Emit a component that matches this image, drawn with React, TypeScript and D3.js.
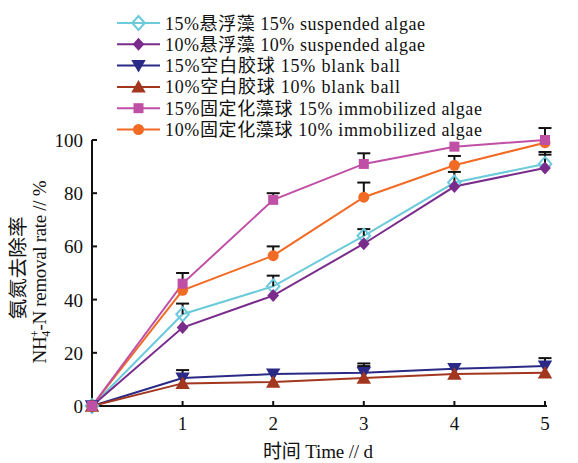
import React from "react";
import * as d3 from "d3";

const days = [0, 1, 2, 3, 4, 5];
const susp15 = [0, 34.5, 45, 64, 84, 91];
const susp10 = [0, 29.5, 41.5, 61, 82.5, 89.5];
const blank15 = [0, 10.5, 12, 12.5, 14, 15];
const blank10 = [0, 8.5, 9, 10.5, 12, 12.5];
const immo15 = [0, 46, 77.5, 91, 97.5, 100];
const immo10 = [0, 43.5, 56.5, 78.5, 90.5, 99];

const errSusp15 = [0, 4, 4, 2.5, 4, 4.5];
const errSusp10 = [0, 0, 0, 0, 0, 5];
const errBlank15 = [0, 3, 0, 3.5, 0, 3];
const errBlank10 = [0, 0, 0, 4.5, 0, 0];
const errImmo15 = [0, 4, 2.5, 4, 0, 4.5];
const errImmo10 = [0, 0, 3.5, 5.5, 3.5, 0];

const legendLabels = [
  "15%悬浮藻 15% suspended algae",
  "10%悬浮藻 10% suspended algae",
  "15%空白胶球 15% blank ball",
  "10%空白胶球 10% blank ball",
  "15%固定化藻球 15% immobilized algae",
  "10%固定化藻球 10% immobilized algae",
];
const yTicks = [0, 20, 40, 60, 80, 100];
const xTicks = [1, 2, 3, 4, 5];

type Series = {
  label: string;
  values: number[];
  err: number[];
  color: string;
  shape: string;
  filled: boolean;
  size: number;
};

const series: Series[] = [
  { label: legendLabels[0], values: susp15, err: errSusp15, color: "#6ccadb", shape: "diamond", filled: false, size: 7 },
  { label: legendLabels[1], values: susp10, err: errSusp10, color: "#7a2c8c", shape: "diamond", filled: true, size: 6.5 },
  { label: legendLabels[2], values: blank15, err: errBlank15, color: "#2a2a86", shape: "down", filled: true, size: 90 },
  { label: legendLabels[3], values: blank10, err: errBlank10, color: "#a3361f", shape: "up", filled: true, size: 90 },
  { label: legendLabels[4], values: immo15, err: errImmo15, color: "#c04fa6", shape: "square", filled: true, size: 100 },
  { label: legendLabels[5], values: immo10, err: errImmo10, color: "#f26b25", shape: "circle", filled: true, size: 95 },
];
const drawOrder = [0, 1, 2, 3, 5, 4];
const legendLengths = [260, 260, 235, 235, 317, 317];

function symbolPath(shape: string, size: number) {
  if (shape === "diamond") {
    const h = size;
    const w = size * 0.9;
    return `M0,${-h}L${w},0L0,${h}L${-w},0Z`;
  }
  const t =
    shape === "up" || shape === "down" ? d3.symbolTriangle :
    shape === "square" ? d3.symbolSquare : d3.symbolCircle;
  return d3.symbol().type(t).size(size)()!;
}

function Marker({ s, x, y }: { s: Series; x: number; y: number }) {
  const rot = s.shape === "down" ? ` rotate(180)` : "";
  const dy = s.shape === "up" ? 1.5 : s.shape === "down" ? -1.5 : 0;
  return (
    <path
      d={symbolPath(s.shape, s.size)}
      transform={`translate(${x},${y + dy})${rot}`}
      fill={s.filled ? s.color : "none"}
      stroke={s.color}
      strokeWidth={s.filled ? 0 : 2}
    />
  );
}

export default function App() {
  const x = d3.scaleLinear().domain([0, 5]).range([92, 545]);
  const y = d3.scaleLinear().domain([0, 100]).range([406, 140]);
  const line = d3
    .line<number>()
    .x((_, i) => x(days[i]))
    .y((d) => y(d));

  const serif = "'Liberation Serif', 'Noto Sans CJK SC', serif";

  return (
    <svg
      width={578}
      height={463}
      style={{ position: "absolute", left: 0, top: 0, background: "#fff" }}
    >
      {/* axes */}
      <line x1={x(0)} x2={x(0)} y1={y(0)} y2={y(100)} stroke="#111" strokeWidth={2} />
      <line x1={x(0)} x2={x(5) + 2} y1={y(0)} y2={y(0)} stroke="#111" strokeWidth={2} />
      {yTicks.map((t) => (
        <g key={"y" + t}>
          <line x1={x(0)} x2={x(0) + 5} y1={y(t)} y2={y(t)} stroke="#111" strokeWidth={2} />
          <text
            x={x(0) - 9}
            y={y(t) + 7}
            textAnchor="end"
            fontFamily={serif}
            fontSize={19}
            fill="#111"
          >
            {t}
          </text>
        </g>
      ))}
      {xTicks.map((t) => (
        <g key={"x" + t}>
          <line x1={x(t)} x2={x(t)} y1={y(0)} y2={y(0) - 5} stroke="#111" strokeWidth={2} />
          <text
            x={x(t)}
            y={y(0) + 24}
            textAnchor="middle"
            fontFamily={serif}
            fontSize={19}
            fill="#111"
          >
            {t}
          </text>
        </g>
      ))}

      {/* axis titles */}
      <text
        transform="translate(25,268) rotate(-90)"
        textAnchor="middle"
        fontFamily="'Noto Sans CJK SC', sans-serif"
        fontSize={19}
        textLength={103}
        lengthAdjust="spacingAndGlyphs"
        fill="#111"
      >
        氨氮去除率
      </text>
      <text
        transform="translate(46,272) rotate(-90)"
        textAnchor="middle"
        fontFamily={serif}
        fontSize={19}
        fill="#111"
        textLength={183}
        lengthAdjust="spacing"
      >
        NH<tspan fontSize={12} dy={4}>4</tspan>
        <tspan fontSize={12} dy={-11} dx={-6}>+</tspan>
        <tspan dy={7}>-N removal rate // %</tspan>
      </text>
      <text
        x={318}
        y={458}
        textAnchor="middle"
        fontFamily={serif}
        fontSize={19}
        fill="#111"
        textLength={110}
        lengthAdjust="spacing"
      >
        时间 Time // d
      </text>

      {/* lines */}
      {drawOrder.map((i) => {
        const s = series[i];
        return (
          <path key={"l" + i} d={line(s.values)!} fill="none" stroke={s.color} strokeWidth={2} />
        );
      })}
      {/* error bars */}
      {drawOrder.map((i) => {
        const s = series[i];
        return (
          <g key={"e" + i}>
            {s.values.map((v, j) =>
              s.err[j] > 0 ? (
                <g key={j}>
                  <line x1={x(days[j])} x2={x(days[j])} y1={y(v)} y2={y(v + s.err[j])} stroke="#111" strokeWidth={2} />
                  <line x1={x(days[j]) - 6.5} x2={x(days[j]) + 6.5} y1={y(v + s.err[j])} y2={y(v + s.err[j])} stroke="#111" strokeWidth={2} />
                </g>
              ) : null
            )}
          </g>
        );
      })}
      {/* markers */}
      {drawOrder.map((i) => {
        const s = series[i];
        return (
          <g key={"m" + i}>
            {s.values.map((v, j) => (
              <Marker key={j} s={s} x={x(days[j])} y={y(v)} />
            ))}
          </g>
        );
      })}

      {/* legend */}
      {series.map((s, i) => {
        const cy = 23 + i * 21.3;
        return (
          <g key={"lg" + i}>
            <line x1={117} x2={160} y1={cy} y2={cy} stroke={s.color} strokeWidth={2} />
            <Marker s={s} x={138.5} y={cy} />
            <text
              x={165}
              y={cy + 6.5}
              fontFamily={serif}
              fontSize={18}
              fill="#111"
              textLength={legendLengths[i]}
              lengthAdjust="spacing"
            >
              {s.label}
            </text>
          </g>
        );
      })}
    </svg>
  );
}
